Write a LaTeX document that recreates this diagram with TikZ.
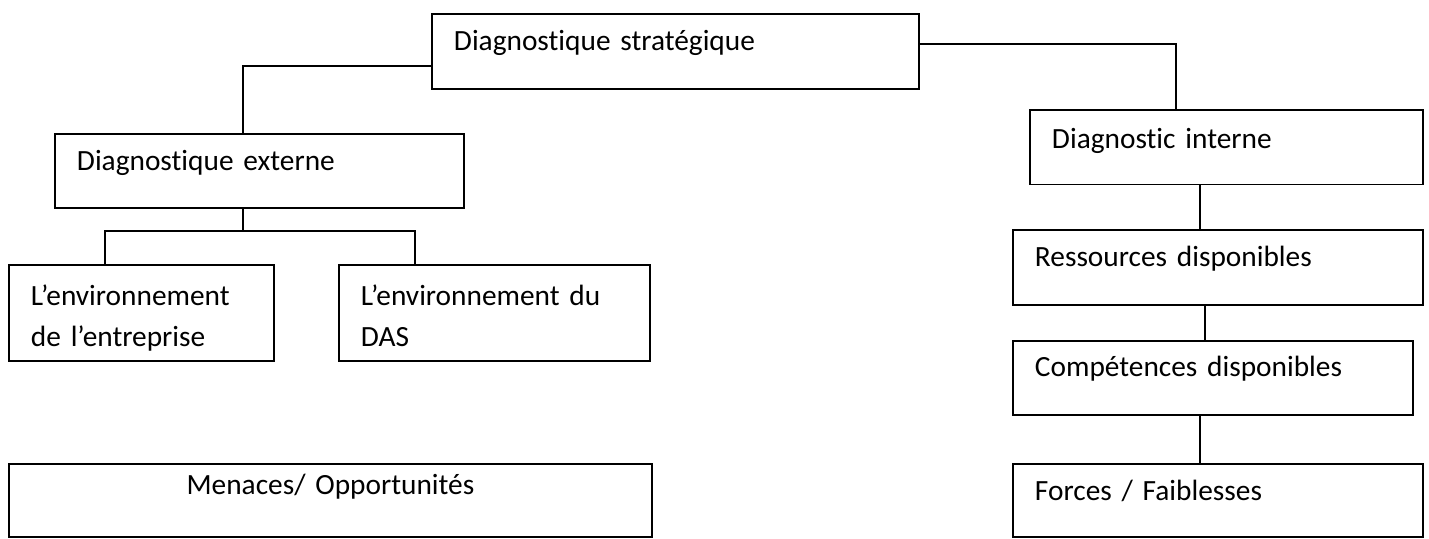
\documentclass[tikz,border=0pt]{standalone}
\usepackage{fontspec}
\setmainfont{Carlito}[Ligatures=NoCommon, WordSpace=0.8]
\usepackage{tikz}
\usetikzlibrary{calc}

\begin{document}
\begin{tikzpicture}[
    cadre/.style={draw, line width=1.1pt, anchor=north west, inner xsep=0.44cm, inner ysep=0pt, align=left, font=\fontsize{16.7}{22.8}\selectfont},
    lien/.style={line width=0.8pt}
]
\useasboundingbox (0,0) rectangle (28.58,-10.76);

% Top box
\node[cadre, text width=8.86cm, text height=0.74cm, text depth=0.76cm] (strat) at (8.62,-0.26) {Diagnostique stratégique};

% External side
\node[cadre, text width=7.30cm, text height=0.74cm, text depth=0.74cm] (ext) at (1.08,-2.66) {Diagnostique externe};
\node[cadre, text width=4.42cm, text height=0.82cm, text depth=1.10cm] (env1) at (0.16,-5.28) {L’environnement\\de l’entreprise};
\node[cadre, text width=5.34cm, text height=0.82cm, text depth=1.10cm] (env2) at (6.76,-5.28) {L’environnement du\\DAS};
\node[cadre, align=center, text width=11.98cm, text height=0.62cm, text depth=0.84cm] (menaces) at (0.16,-9.26) {Menaces/ Opportunités};

% Internal side
\node[cadre, text width=6.98cm, text height=0.77cm, text depth=0.72cm] (int) at (20.58,-2.18) {Diagnostic interne};
\node[cadre, text width=7.32cm, text height=0.74cm, text depth=0.76cm] (res) at (20.24,-4.58) {Ressources disponibles};
\node[cadre, text width=7.12cm, text height=0.72cm, text depth=0.76cm] (comp) at (20.24,-6.80) {Compétences disponibles};
\node[cadre, text width=7.32cm, text height=0.74cm, text depth=0.72cm] (forces) at (20.24,-9.26) {Forces / Faiblesses};

% Connectors from the top box
\draw[lien] ([yshift=-0.29cm]strat.west) -| ([xshift=-0.33cm]ext.north);
\draw[lien] ([yshift=0.15cm]strat.east) -| ([xshift=-1.01cm]int.north);

% Fork under the external box
\draw[lien] ([xshift=-0.33cm]ext.south) -- ++(0,-0.44) coordinate (fourche);
\draw[lien] ([xshift=-0.73cm]env1.north) |- (fourche) -| ([xshift=-1.59cm]env2.north);

% Chain on the internal side
\draw[lien] ([xshift=-0.53cm]int.south) -- ([xshift=-0.53cm]int.south |- res.north);
\draw[lien] ([xshift=-0.26cm]res.south) -- ([xshift=-0.26cm]res.south |- comp.north);
\draw[lien] ([xshift=-0.26cm]comp.south) -- ([xshift=-0.26cm]comp.south |- forces.north);
\end{tikzpicture}
\end{document}
